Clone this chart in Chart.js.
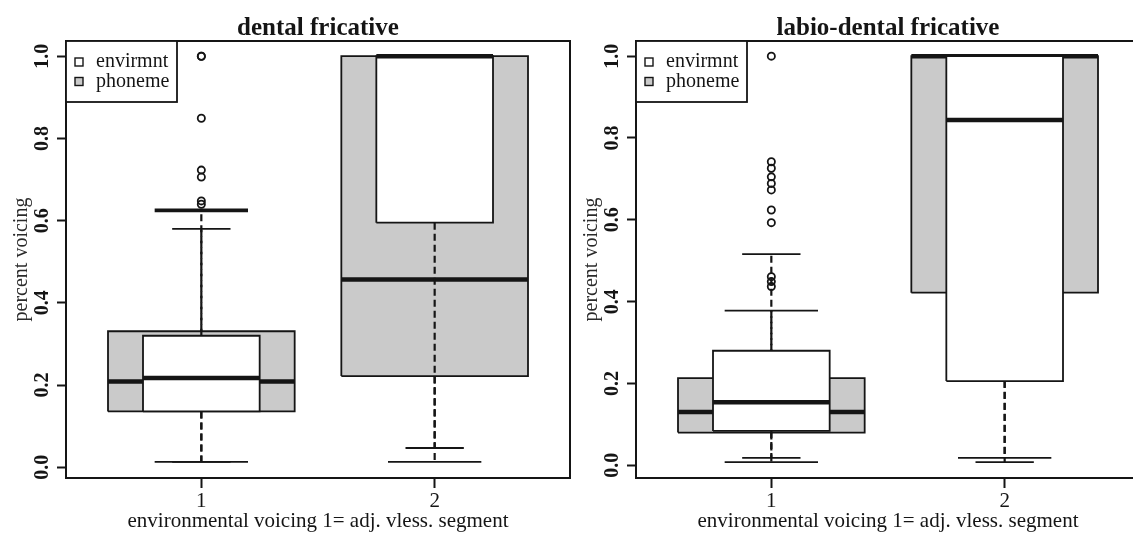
<!DOCTYPE html>
<html>
<head>
<meta charset="utf-8">
<title>percent voicing</title>
<script src="https://cdn.jsdelivr.net/npm/chart.js@4.4.1/dist/chart.umd.min.js"></script>
<style>
  html, body { margin: 0; padding: 0; background: #fff; overflow: hidden; }
  #wrap { position: relative; width: 1133px; height: 534px; overflow: hidden; background: #fff; }
  .panel { position: absolute; top: 0; width: 582px; height: 534px; }
  #left { left: 0; }
  #right { left: 570px; }
</style>
</head>
<body>
<div id="wrap">
  <div class="panel" id="left"><canvas id="dental" width="582" height="534"></canvas></div>
  <div class="panel" id="right"><canvas id="labio" width="582" height="534"></canvas></div>
</div>
<script>
// x axis groups
const categories = ['1', '2'];
const categoryPositions = [1, 2];

// y axis ticks
const yTickValues = [0, 0.2, 0.4, 0.6, 0.8, 1.0];
const yTickLabels = ['0.0', '0.2', '0.4', '0.6', '0.8', '1.0'];

const seriesNames = ['envirmnt', 'phoneme'];

// per group: [lower whisker, Q1, median, Q3, upper whisker]
const dentalPhoneme = [
  [0.013, 0.136, 0.209, 0.331, 0.625],
  [0.013, 0.222, 0.457, 1.0, 1.0]
];
const dentalEnvirmnt = [
  [0.013, 0.136, 0.217, 0.320, 0.580],
  [0.047, 0.595, 1.0, 1.0, 1.0]
];
const dentalOutliers = [
  [1.0, 1.0, 0.849, 0.723, 0.706, 0.648, 0.640],
  []
];

const labioPhoneme = [
  [0.008, 0.080, 0.130, 0.213, 0.378],
  [0.018, 0.422, 1.0, 1.0, 1.0]
];
const labioEnvirmnt = [
  [0.018, 0.084, 0.154, 0.280, 0.516],
  [0.008, 0.206, 0.844, 1.0, 1.0]
];
const labioOutliers = [
  [1.0, 0.742, 0.726, 0.705, 0.689, 0.673, 0.624, 0.593, 0.461, 0.449, 0.437],
  []
];

const INK = '#151515';
const GRAY = '#cacaca';
const SERIF = '"Liberation Serif", "DejaVu Serif", serif';

function seg(points, extra) {
  return Object.assign({
    type: 'line',
    data: points.map(p => ({ x: p[0], y: p[1] })),
    borderColor: INK,
    borderWidth: 1.8,
    borderCapStyle: 'butt',
    pointRadius: 0,
    fill: false,
    tension: 0
  }, extra || {});
}

// one boxplot series: box, median, dashed whiskers and staples for every group
function boxSeries(stats, boxWidth, fillColor, upperCapWeight) {
  const sets = [];
  stats.forEach((s, i) => {
    const x = categoryPositions[i];
    const h = boxWidth / 2;
    const c = boxWidth / 4;
    const [lo, q1, med, q3, hi] = s;
    sets.push(seg([[x - h, q1], [x - h, q3], [x + h, q3], [x + h, q1], [x - h, q1]],
      { fill: 'shape', backgroundColor: fillColor, borderJoinStyle: 'miter' }));
    sets.push(seg([[x - h, med], [x + h, med]], { borderWidth: 4.5 }));
    if (hi > q3) {
      sets.push(seg([[x, q3], [x, hi]], { borderDash: [7, 4], borderWidth: 2.2 }));
      sets.push(seg([[x - c, hi], [x + c, hi]], { borderWidth: (upperCapWeight && upperCapWeight[i]) || 1.8 }));
    }
    if (lo < q1) {
      sets.push(seg([[x, q1], [x, lo]], { borderDash: [7, 4], borderWidth: 2.2 }));
      sets.push(seg([[x - c, lo], [x + c, lo]]));
    }
  });
  return sets;
}

function outlierSet(outliers) {
  const pts = [];
  outliers.forEach((list, i) => list.forEach(v => pts.push([categoryPositions[i], v])));
  return seg(pts, {
    showLine: false,
    pointRadius: 3.6,
    pointBorderWidth: 1.8,
    pointBorderColor: INK,
    pointBackgroundColor: 'rgba(0,0,0,0)'
  });
}

// frame, rotated y tick labels and the legend box
const panelDecor = {
  id: 'panelDecor',
  afterDatasetsDraw(chart) {
    const { ctx, chartArea: a } = chart;
    const y = chart.scales.y;
    ctx.save();
    ctx.strokeStyle = INK;
    ctx.lineWidth = 2;
    ctx.strokeRect(a.left, a.top, a.right - a.left, a.bottom - a.top);

    ctx.fillStyle = INK;
    ctx.font = 'bold 20px ' + SERIF;
    ctx.textAlign = 'center';
    ctx.textBaseline = 'middle';
    yTickValues.forEach((v, i) => {
      ctx.save();
      ctx.translate(a.left - 23, y.getPixelForValue(v));
      ctx.rotate(-Math.PI / 2);
      ctx.fillText(yTickLabels[i], 0, 0);
      ctx.restore();
    });

    const lx = a.left, ly = a.top, lw = 111, lh = 61;
    ctx.fillStyle = '#fff';
    ctx.fillRect(lx, ly, lw, lh);
    ctx.lineWidth = 1.8;
    ctx.strokeRect(lx, ly, lw, lh);
    const swatches = ['#fff', GRAY];
    ctx.font = '20px ' + SERIF;
    ctx.textAlign = 'left';
    seriesNames.forEach((name, i) => {
      const cy = ly + 21 + i * 19.5;
      ctx.fillStyle = swatches[i];
      ctx.fillRect(lx + 9, cy - 4, 8, 8);
      ctx.lineWidth = 1.4;
      ctx.strokeRect(lx + 9, cy - 4, 8, 8);
      ctx.fillStyle = INK;
      ctx.fillText(name, lx + 30, cy);
    });
    ctx.restore();
  }
};

function makePanel(canvasId, title, phoneme, envirmnt, outliers, yMin, yMax, upperCapWeight) {
  const sets = []
    .concat(boxSeries(phoneme, 0.8, GRAY, upperCapWeight))
    .concat(boxSeries(envirmnt, 0.5, '#ffffff'))
    .concat([outlierSet(outliers)]);
  // first dataset in the list is painted first
  sets.forEach((d, i) => { d.order = sets.length - i; });

  return new Chart(document.getElementById(canvasId), {
    type: 'line',
    data: { datasets: sets },
    options: {
      responsive: false,
      animation: false,
      events: [],
      layout: { padding: { left: 0, right: 12, top: 0, bottom: 0 } },
      plugins: {
        legend: { display: false },
        tooltip: { enabled: false },
        title: {
          display: true,
          text: title,
          fullSize: false,
          color: INK,
          font: { family: SERIF, size: 25, weight: 'bold', lineHeight: 1.0 },
          padding: { top: 16, bottom: 0 }
        }
      },
      scales: {
        x: {
          type: 'linear',
          min: 0.42,
          max: 2.58,
          afterBuildTicks: s => { s.ticks = categoryPositions.map(v => ({ value: v })); },
          afterFit: s => { s.height = 56; },
          ticks: {
            callback: (v, i) => categories[i],
            color: INK,
            font: { family: SERIF, size: 21 },
            padding: 1,
            maxRotation: 0,
            autoSkip: false
          },
          grid: { drawOnChartArea: false, tickLength: 10, tickWidth: 2, tickColor: INK },
          border: { display: false },
          title: {
            display: true,
            text: 'environmental voicing 1= adj. vless. segment',
            color: INK,
            font: { family: SERIF, size: 21, lineHeight: 1.2 },
            padding: { top: 0, bottom: 0 }
          }
        },
        y: {
          type: 'linear',
          min: yMin,
          max: yMax,
          afterBuildTicks: s => { s.ticks = yTickValues.map(v => ({ value: v })); },
          afterFit: s => { s.width = 66; },
          ticks: { display: false },
          grid: { drawOnChartArea: false, tickLength: 9, tickWidth: 2, tickColor: INK },
          border: { display: false },
          title: {
            display: true,
            text: 'percent voicing',
            color: '#2a2a2a',
            font: { family: SERIF, size: 20, lineHeight: 1.2 },
            padding: { top: 10, bottom: 0 }
          }
        }
      }
    },
    plugins: [panelDecor]
  });
}

makePanel('dental', 'dental fricative', dentalPhoneme, dentalEnvirmnt, dentalOutliers, -0.026, 1.037, [3.6, null]);
makePanel('labio', 'labio-dental fricative', labioPhoneme, labioEnvirmnt, labioOutliers, -0.031, 1.037);
</script>
</body>
</html>
